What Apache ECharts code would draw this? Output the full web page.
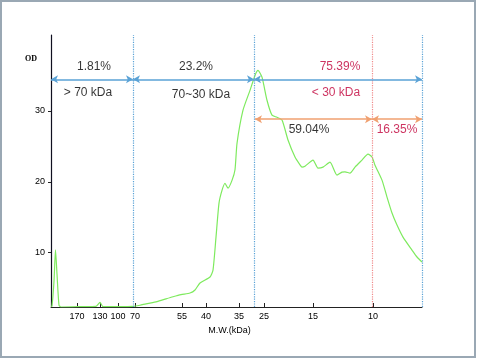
<!DOCTYPE html>
<html>
<head>
<meta charset="utf-8">
<script src="https://cdn.jsdelivr.net/npm/echarts@6/dist/echarts.min.js"></script>
<style>
html,body{margin:0;padding:0;background:#fff;}
#c{width:477px;height:360px;}
</style>
</head>
<body>
<div id="c"></div>
<script>
// Elution position (arbitrary units along the gel lane) and optical density
const position = [0,1,3,4.5,6,8,10,30,45,49,52,70,82,89,95,106,115,122,130,139,144,149,159,162,165,168,171,174,177,181,184,186,192,199,204,207,211,216,221,226,231,237,244,249,251,254,262,267,272,279,286,291,294,299,304,311,317,321,324,331,336,341,346,352,361,366,371];
const od       = [2.4,2.5,6,10.4,7,2.6,2.35,2.4,2.45,3.0,2.4,2.4,2.45,2.6,2.8,3.1,3.5,3.8,4.1,4.32,4.75,5.73,6.58,7.56,12.2,17.0,18.8,19.8,19.1,20.2,21.7,25.4,30.1,32.9,35.0,35.7,34.75,31.5,29.4,29.1,28.7,25.9,23.5,22.4,22.07,22.2,23.06,21.93,22.07,22.77,20.94,21.37,21.4,21.23,22.07,23.06,23.9,23.5,22.35,20.24,17.85,15.6,13.9,12.2,10.38,9.4,8.69];

// molecular weight markers (kDa) and their positions on the lane
const mwLabels    = ['170','130','100','70','55','40','35','25','15','10'];
const mwPositions = [26,49,67,84,131,155,188,213,262,322];
const odTicks     = [10,20,30];

// fraction boundaries (positions) and shares
const bounds     = [0, 82, 203, 321, 371];
const fracTexts  = ['1.81%','> 70 kDa','23.2%','70~30 kDa','75.39%','< 30 kDa','59.04%','16.35%'];
const fracX      = [43, 37, 145, 150, 289, 285, 258, 346];
const fracY      = [36.3, 32.6, 36.3, 32.35, 36.3, 32.6, 27.4, 27.4];
const fracColors = ['#000','#000','#000','#000','#c0003a','#c0003a','#000','#c0003a'];

const chart = echarts.init(document.getElementById('c'), null, {renderer:'canvas'});
const labelMap = {};
mwPositions.forEach((p,i)=>{labelMap[p]=mwLabels[i];});

const blue = '#5aa2d6', orange = '#f0a070', red = '#f08a8a';
const yBlue = 34.46, yOrange = 28.83;
const arrowStyle = (c)=>({color:c, width:1.6, type:'solid'});

const option = {
  animation:false,
  backgroundColor:'#ffffff',
  title:{text:'OD', left:20, top:50, textStyle:{fontFamily:'Liberation Serif', fontWeight:'bold', fontSize:8, color:'#000'}},
  grid:{left:51, right:55, top:35, bottom:53},
  xAxis:{
    type:'value', min:0, max:371,
    name:'M.W.(kDa)', nameLocation:'middle', nameGap:14,
    nameTextStyle:{fontFamily:'Liberation Sans', fontSize:9, color:'#000', padding:[0,14,0,0]},
    axisLine:{lineStyle:{color:'#222', width:1}},
    axisTick:{show:true, inside:true, length:4, customValues:mwPositions, lineStyle:{color:'#222'}},
    axisLabel:{customValues:mwPositions, formatter:(v)=>labelMap[v]||'', fontFamily:'Liberation Sans', fontSize:9, color:'#000', margin:5},
    splitLine:{show:false}
  },
  yAxis:{
    type:'value', min:2.35, max:40.7,
    axisLine:{show:true, lineStyle:{color:'#101020', width:1.2}},
    axisTick:{show:true, length:3, customValues:odTicks, lineStyle:{color:'#222'}},
    axisLabel:{customValues:odTicks, fontFamily:'Liberation Sans', fontSize:9, color:'#000', margin:6},
    splitLine:{show:false}
  },
  graphic:[{type:'rect', shape:{x:1,y:1,width:474,height:356}, style:{fill:'none', stroke:'#9aa8b4', lineWidth:2}, silent:true}],
  series:[
    {
      type:'line', data:position.map((p,i)=>[p,od[i]]), showSymbol:false, symbol:'none', smooth:0.2,
      lineStyle:{color:'#7eea5e', width:1.2},
      z:3,
      markLine:{
        silent:true, animation:false, symbol:['none','none'], label:{show:false},
        data:[
          {xAxis:bounds[1], lineStyle:{color:blue, type:'dotted', width:1.2}},
          {xAxis:bounds[2], lineStyle:{color:blue, type:'dotted', width:1.2}},
          {xAxis:bounds[4], lineStyle:{color:blue, type:'dotted', width:1.2}},
          {xAxis:bounds[3], lineStyle:{color:red, type:'dotted', width:1.2}},
          [{coord:[bounds[0],yBlue], symbol:'arrow', lineStyle:arrowStyle(blue)},{coord:[bounds[1],yBlue], symbol:'arrow'}],
          [{coord:[bounds[1],yBlue], symbol:'arrow', lineStyle:arrowStyle(blue)},{coord:[bounds[2],yBlue], symbol:'arrow'}],
          [{coord:[bounds[2],yBlue], symbol:'arrow', lineStyle:arrowStyle(blue)},{coord:[bounds[4],yBlue], symbol:'arrow'}],
          [{coord:[bounds[2]+1,yOrange], symbol:'arrow', lineStyle:arrowStyle(orange)},{coord:[bounds[3],yOrange], symbol:'arrow'}],
          [{coord:[bounds[3],yOrange], symbol:'arrow', lineStyle:arrowStyle(orange)},{coord:[bounds[4],yOrange], symbol:'arrow'}]
        ],
        symbolSize:[6,7]
      }
    },
    {
      type:'scatter', symbolSize:0, silent:true, z:5,
      data:fracTexts.map((t,i)=>({name:t, value:[fracX[i],fracY[i]], label:{color:fracColors[i]}})),
      label:{show:true, position:'inside', formatter:(p)=>p.name, fontFamily:'Liberation Sans', fontSize:12}
    }
  ]
};
chart.setOption(option);
</script>
</body>
</html>
